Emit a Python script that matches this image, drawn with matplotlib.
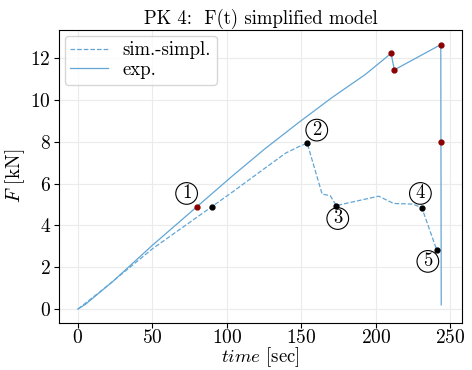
import matplotlib
matplotlib.use("Agg")
from matplotlib import pyplot as plt

plt.rcParams['font.family'] = 'serif'
plt.rcParams['font.serif'] = ['cmr10']
plt.rcParams['mathtext.fontset'] = 'cm'
plt.rcParams['axes.unicode_minus'] = False
plt.rcParams['axes.formatter.use_mathtext'] = True
plt.rcParams['font.size'] = 14

# experiment
t_exp = [0, 5, 10, 23.6, 50, 80, 103.8, 126, 148.4, 170.7, 193, 210.3, 212.5, 243.7, 243.8, 244]
F_exp = [0, 0.22, 0.52, 1.33, 3.05, 4.9, 6.37, 7.69, 8.93, 10.12, 11.22, 12.23, 11.44, 12.65, 8.0, 0.2]

# simplified simulation
t_sim = [0, 17, 50, 90, 103.8, 126, 139.5, 148.4, 154, 164, 169.5, 173.5, 202, 212, 225, 231, 241]
F_sim = [0, 0.95, 2.88, 4.9, 5.6, 6.76, 7.46, 7.77, 7.93, 5.5, 5.42, 4.95, 5.4, 5.05, 5.02, 4.84, 2.82]

# marked states
t_red = [80, 210.3, 212.5, 244, 244]
F_red = [4.9, 12.23, 11.44, 12.65, 8.0]
t_blk = [90, 154, 173.5, 231, 241]
F_blk = [4.9, 7.93, 4.95, 4.84, 2.82]

labels = ['1', '2', '3', '4', '5']
lab_t = [73, 160.4, 174.5, 230, 235]
lab_F = [5.53, 8.56, 4.33, 5.53, 2.28]

col = '#62a6d6'

fig, ax = plt.subplots(figsize=(4.72, 3.7), dpi=100)
ax.plot(t_sim, F_sim, '--', color=col, lw=0.9, label='sim.-simpl.')
ax.plot(t_exp, F_exp, '-', color=col, lw=0.9, label='exp.')
ax.plot(t_red, F_red, 'o', color='darkred', ms=3.5, zorder=5)
ax.plot(t_blk, F_blk, 'o', color='black', ms=3.5, zorder=5)

for s, x, y in zip(labels, lab_t, lab_F):
    ax.text(x, y, s, ha='center', va='center', fontsize=13.5,
            bbox=dict(boxstyle='circle,pad=0.1', fc='none', ec='black', lw=0.8))

ax.set_xlim(-12.7, 258)
ax.set_ylim(-0.65, 13.35)
ax.set_xticks([0, 50, 100, 150, 200, 250])
ax.set_yticks([0, 2, 4, 6, 8, 10, 12])
ax.tick_params(axis='y', pad=2.5)
ax.tick_params(axis='x', pad=1.0)
ax.grid(True, color='#ebebeb', lw=0.8)
ax.set_axisbelow(True)
ax.set_title('PK 4:  F(t) simplified model', fontsize=13.5, pad=4)
ax.set_xlabel('$time$ [sec]', fontsize=13.5, labelpad=-1.0)
ax.set_ylabel('$F$ [kN]', labelpad=2)
ax.legend(loc='upper left', fontsize=13.5, handlelength=2.0, borderaxespad=0.3,
          labelspacing=0.1, borderpad=0.3)

fig.subplots_adjust(left=0.125, right=0.979, top=0.919, bottom=0.128)
fig.savefig('out.png', dpi=100)
